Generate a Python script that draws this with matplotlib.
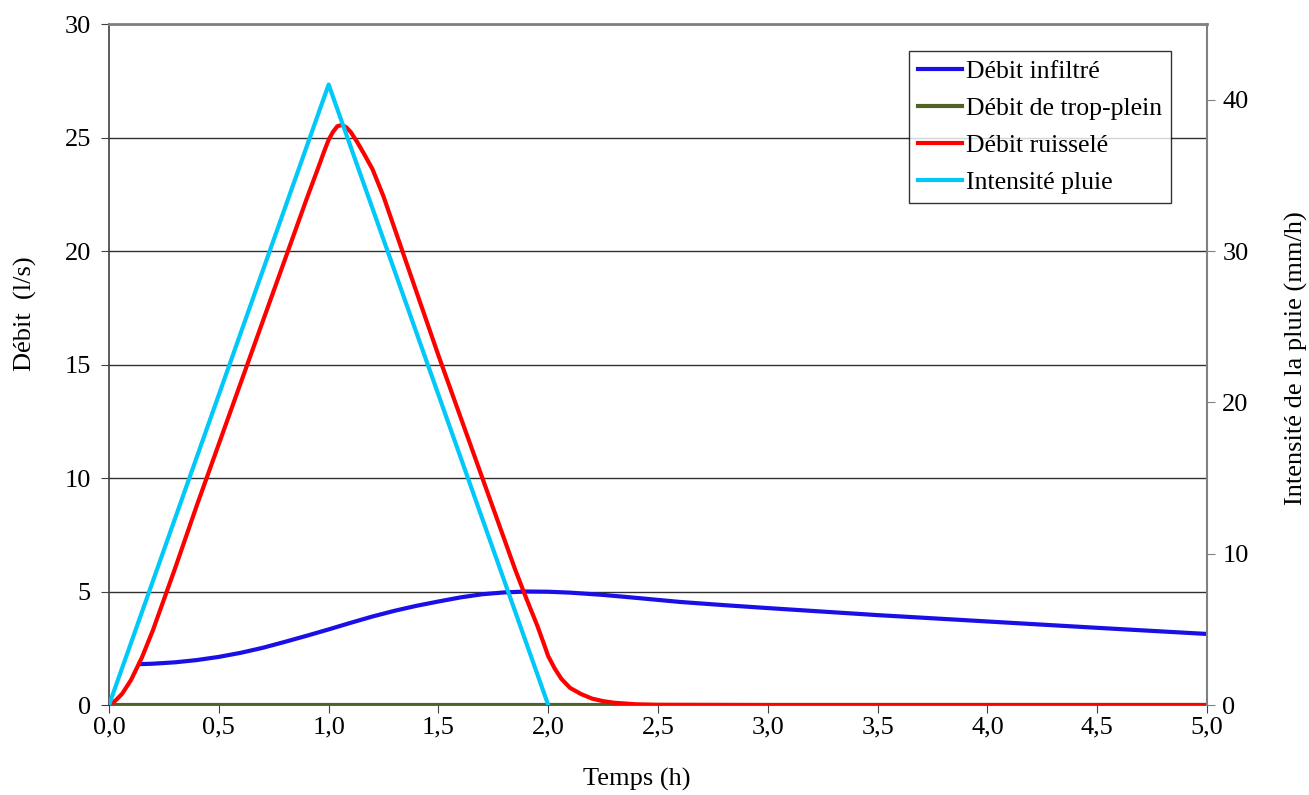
import matplotlib
matplotlib.use("Agg")
import matplotlib.pyplot as plt
from matplotlib.ticker import FuncFormatter

plt.rcParams['font.family'] = ['Liberation Serif', 'DejaVu Serif']

# Data
t_infiltre = [0.14, 0.2, 0.3, 0.4, 0.5, 0.6, 0.7, 0.8, 0.9, 1.0, 1.1, 1.2, 1.3, 1.4, 1.5,
              1.6, 1.7, 1.8, 1.9, 2.0, 2.1, 2.25, 2.4, 2.6, 2.8, 3.0, 3.5, 4.0, 4.5, 5.0]
q_infiltre = [1.8, 1.82, 1.88, 1.98, 2.12, 2.3, 2.52, 2.78, 3.05, 3.33, 3.62, 3.9, 4.15, 4.37, 4.56,
              4.74, 4.88, 4.96, 5.0, 4.99, 4.95, 4.85, 4.72, 4.54, 4.4, 4.27, 3.96, 3.68, 3.4, 3.13]

t_trop = [0.0, 5.0]
q_trop = [0.0, 0.0]

t_ruiss = [0, 0.03, 0.06, 0.1, 0.15, 0.2, 0.3, 0.4, 0.5, 0.6, 0.7, 0.8, 0.9, 0.95, 0.98, 1.0, 1.02,
           1.04, 1.06, 1.08, 1.1, 1.13, 1.16, 1.2, 1.25, 1.3, 1.4, 1.5, 1.6, 1.7, 1.8, 1.85, 1.9,
           1.95, 1.98, 2.0, 2.03, 2.06, 2.1, 2.15, 2.2, 2.25, 2.3, 2.4, 2.5, 3.0, 5.0]
q_ruiss = [0, 0.2, 0.5, 1.1, 2.1, 3.3, 6.0, 8.8, 11.5, 14.2, 16.9, 19.6, 22.3, 23.6, 24.4, 24.9, 25.25,
           25.5, 25.55, 25.45, 25.25, 24.8, 24.3, 23.6, 22.4, 21.0, 18.2, 15.4, 12.7, 10.0, 7.3, 5.95, 4.7,
           3.5, 2.7, 2.15, 1.6, 1.15, 0.75, 0.48, 0.28, 0.17, 0.1, 0.03, 0.01, 0, 0]

t_pluie = [0.0, 1.0, 2.0]
i_pluie = [0.0, 41.0, 0.0]

x_ticks = [0.0, 0.5, 1.0, 1.5, 2.0, 2.5, 3.0, 3.5, 4.0, 4.5, 5.0]
y_ticks = [0, 5, 10, 15, 20, 25, 30]
y2_ticks = [0, 10, 20, 30, 40]

fig = plt.figure(figsize=(13.09, 7.95), dpi=100)
ax = fig.add_axes([0.0833, 0.1132, 0.8388, 0.8566])
ax2 = ax.twinx()

lw = 3
l1, = ax.plot(t_infiltre, q_infiltre, color='#1a0fe6', lw=lw, label='Débit infiltré', zorder=3)
l2, = ax.plot(t_trop, q_trop, color='#4f6228', lw=lw, label='Débit de trop-plein', zorder=3)
l3, = ax.plot(t_ruiss, q_ruiss, color='#ff0000', lw=lw, label='Débit ruisselé', zorder=3)
l4, = ax2.plot(t_pluie, i_pluie, color='#00c8f8', lw=lw, label='Intensité pluie', zorder=3)

ax.set_xlim(0, 5)
ax.set_ylim(0, 30)
ax2.set_ylim(0, 45)
ax.set_xticks(x_ticks)
ax.set_yticks(y_ticks)
ax2.set_yticks(y2_ticks)
ax.xaxis.set_major_formatter(FuncFormatter(lambda v, p: f"{v:.1f}".replace('.', ',')))

ax.yaxis.grid(True, color='#303030', lw=1)
ax.set_axisbelow(True)

fs = 19
ax.tick_params(axis='both', labelsize=fs, direction='out', length=6, color='#404040')
ax.tick_params(axis='x', pad=2)
ax.tick_params(axis='y', pad=7)
ax2.tick_params(axis='y', labelsize=fs, direction='out', length=6, color='#808080', pad=5)

for sp in ['left', 'bottom']:
    ax.spines[sp].set_color('#404040')
    ax.spines[sp].set_linewidth(1.2)
ax2.spines['top'].set_color('#808080')
ax2.spines['top'].set_linewidth(2)
ax2.spines['right'].set_color('#808080')
ax2.spines['right'].set_linewidth(1.5)
ax.spines['top'].set_visible(False)
ax.spines['right'].set_visible(False)
ax2.spines['left'].set_visible(False)
ax2.spines['bottom'].set_visible(False)

ax.set_xlabel('Temps (h)', fontsize=fs, va='center')
ax.xaxis.set_label_coords(0.481, -0.110)
ax.set_ylabel('Débit  (l/s)', fontsize=fs, va='center')
ax.yaxis.set_label_coords(-0.0765, 0.574)
ax2.set_ylabel('Intensité de la pluie (mm/h)', fontsize=fs, va='center')
ax2.yaxis.set_label_coords(1.081, 0.51)

leg = ax2.legend(handles=[l1, l2, l3, l4], loc='upper left',
                 bbox_to_anchor=(0.7286, 0.9604), fontsize=18.5,
                 frameon=True, fancybox=False, edgecolor='black',
                 handlelength=1.7, handletextpad=0.15, borderpad=0.35,
                 labelspacing=0.55, borderaxespad=0)
leg.get_frame().set_linewidth(1.0)

fig.savefig('out.png', dpi=100)
